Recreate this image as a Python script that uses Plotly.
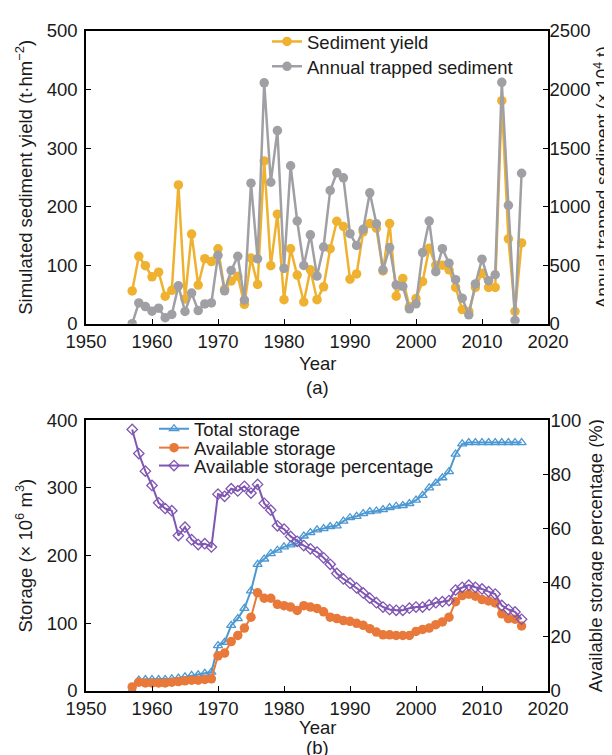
import plotly.graph_objects as go

years = list(range(1957, 2017))

sediment_yield = [56, 115, 99, 80, 88, 47, 57, 237, 42, 153, 66, 111, 106, 128, 59, 73, 81, 33, 112, 67,
                  278, 99, 187, 41, 128, 83, 37, 92, 41, 63, 128, 175, 166, 76, 85, 157, 171, 163, 90, 171,
                  47, 77, 29, 43, 72, 129, 100, 100, 92, 62, 24, 21, 62, 86, 62, 62, 381, 145, 21, 138]

trapped_sediment = [0, 177, 146, 107, 132, 51, 79, 323, 104, 261, 112, 169, 177, 584, 281, 455, 576, 202, 1200, 554,
                    2057, 1208, 1649, 472, 1349, 877, 497, 759, 407, 655, 1138, 1289, 1246, 769, 668, 806, 1118, 853, 460, 650,
                    331, 319, 127, 170, 607, 876, 444, 641, 517, 376, 218, 76, 339, 551, 367, 418, 2062, 1011, 28, 1285]

total_storage = [1, 16, 17, 17, 17, 17, 18, 19, 21, 23, 24, 26, 28, 67, 72, 97, 107, 122, 148, 187,
                 195, 203, 208, 213, 216, 218, 229, 234, 238, 240, 243, 244, 251, 256, 258, 262, 265, 266, 268, 271,
                 273, 274, 277, 282, 289, 300, 307, 315, 324, 350, 365, 367, 367, 367, 367, 367, 367, 367, 367, 367]

available_storage = [6, 13, 12, 12, 12, 12, 13, 14, 15, 16, 16, 17, 18, 52, 56, 73, 82, 93, 109, 145,
                     137, 137, 128, 126, 124, 119, 126, 124, 122, 117, 109, 107, 104, 103, 100, 97, 92, 87, 83, 83,
                     82, 82, 82, 88, 91, 93, 98, 102, 109, 132, 141, 143, 140, 135, 133, 130, 114, 107, 106, 96]

available_pct = [96.6, 87.7, 81.2, 75.9, 69.5, 67.4, 66.6, 57.4, 60.5, 55.9, 54.1, 54.4, 53.2, 72.7, 71.9, 74.7, 73.9, 75.6, 73.1, 76.3,
                 69.3, 66.8, 61.0, 59.8, 57.1, 55.3, 53.7, 52.5, 51.3, 49.2, 46.8, 43.4, 41.4, 39.8, 38.1, 36.2, 34.3, 32.6, 31.0, 30.1,
                 29.8, 29.8, 30.6, 31.0, 31.0, 31.8, 32.6, 33.0, 33.4, 37.3, 38.3, 39.1, 38.3, 37.7, 36.7, 35.8, 31.6, 30.1, 29.2, 26.5]

x_ticks = [1950, 1960, 1970, 1980, 1990, 2000, 2010, 2020]

C_YIELD = "#EFB130"
C_TRAP = "#A0A0A4"
C_TOTAL = "#4C98D2"
C_AVAIL = "#E8793A"
C_PCT = "#7F56B2"

FONT = "Liberation Sans, Arial, sans-serif"
TXT = "#1a1a1a"
FS = 18.5

PLOT_T, PLOT_B = 20, 683
H = 755


def py(p):
    return (PLOT_B - p) / (PLOT_B - PLOT_T)


def px(p):
    return (p - 78) / 462


fig = go.Figure()

fig.add_trace(go.Scatter(x=years, y=sediment_yield, name="Sediment yield", mode="lines+markers",
                         line=dict(color=C_YIELD, width=2.5), marker=dict(symbol="circle", size=9.5, color=C_YIELD),
                         xaxis="x", yaxis="y", legend="legend"))
fig.add_trace(go.Scatter(x=years, y=trapped_sediment, name="Annual trapped sediment", mode="lines+markers",
                         line=dict(color=C_TRAP, width=2.5), marker=dict(symbol="circle", size=9.5, color=C_TRAP),
                         xaxis="x", yaxis="y2", legend="legend2"))

fig.add_trace(go.Scatter(x=years, y=total_storage, name="Total storage", mode="lines+markers",
                         line=dict(color=C_TOTAL, width=2),
                         marker=dict(symbol="triangle-up-open", size=8, color=C_TOTAL, line=dict(width=1.3, color=C_TOTAL)),
                         xaxis="x2", yaxis="y3", legend="legend3"))
fig.add_trace(go.Scatter(x=years, y=available_storage, name="Available storage", mode="lines+markers",
                         line=dict(color=C_AVAIL, width=2), marker=dict(symbol="circle", size=9.5, color=C_AVAIL),
                         xaxis="x2", yaxis="y3", legend="legend4"))
fig.add_trace(go.Scatter(x=years, y=available_pct, name="Available storage percentage", mode="lines+markers",
                         line=dict(color=C_PCT, width=2),
                         marker=dict(symbol="diamond-open", size=8, color=C_PCT, line=dict(width=1.3, color=C_PCT)),
                         xaxis="x2", yaxis="y4", legend="legend5"))

top_dom = [py(314), 1.0]
bot_dom = [0.0, py(411)]

axis_common = dict(showline=True, linecolor="black", linewidth=1.5, ticks="inside", ticklen=5,
                   tickcolor="black", tickwidth=1.2, showgrid=False, zeroline=False,
                   tickfont=dict(family=FONT, size=FS, color=TXT))
title_font = dict(family=FONT, size=FS, color=TXT)


def leg(xpx, ypx):
    return dict(x=px(xpx), y=py(ypx), xanchor="left", yanchor="middle", bgcolor="rgba(0,0,0,0)",
                font=dict(family=FONT, size=FS, color=TXT), itemwidth=30, borderwidth=0)


fig.update_layout(
    width=612, height=H,
    margin=dict(l=78, r=72, t=PLOT_T, b=H - PLOT_B),
    paper_bgcolor="white", plot_bgcolor="white",
    font=dict(family=FONT, size=FS, color=TXT),
    xaxis=dict(domain=[0, 1], anchor="y", range=[1950, 2020], tickvals=x_ticks, mirror=True, **axis_common),
    yaxis=dict(domain=top_dom, anchor="x", range=[0, 500], dtick=100, ticklabelstandoff=3,
               title=dict(text="Simulated sediment yield (t·hm<sup>−2</sup>)", font=title_font, standoff=9),
               **axis_common),
    yaxis2=dict(domain=top_dom, anchor="x", overlaying="y", side="right", range=[0, 2500], dtick=500,
                ticklabelstandoff=-4,
                title=dict(text="Annual trapped sediment (× 10<sup>4</sup> t)",
                           font=dict(family=FONT, size=17.5, color=TXT), standoff=0),
                **axis_common),
    xaxis2=dict(domain=[0, 1], anchor="y3", range=[1950, 2020], tickvals=x_ticks, mirror=True, **axis_common),
    yaxis3=dict(domain=bot_dom, anchor="x2", range=[0, 400], dtick=100, ticklabelstandoff=3,
                title=dict(text="Storage (× 10<sup>6</sup> m<sup>3</sup>)", font=title_font, standoff=9),
                **axis_common),
    yaxis4=dict(domain=bot_dom, anchor="x2", overlaying="y3", side="right", range=[0, 100], dtick=20,
                ticklabelstandoff=-3,
                title=dict(text="Available storage percentage (%)", font=title_font, standoff=9),
                **axis_common),
    legend=leg(259, 31),
    legend2=leg(259, 56),
    legend3=leg(146, 420),
    legend4=leg(146, 439),
    legend5=leg(146, 457),
    showlegend=True,
)

ann = [
    dict(text="Year", x=0.5, y=py(354)),
    dict(text="(a)", x=0.5, y=py(378)),
    dict(text="Year", x=0.5, y=py(720)),
    dict(text="(b)", x=0.5, y=py(740)),
]
for a in ann:
    a.update(xref="paper", yref="paper", showarrow=False, xanchor="center", yanchor="middle",
             font=dict(family=FONT, size=FS, color=TXT))
fig.update_layout(annotations=ann)

fig.write_html("out.html")
